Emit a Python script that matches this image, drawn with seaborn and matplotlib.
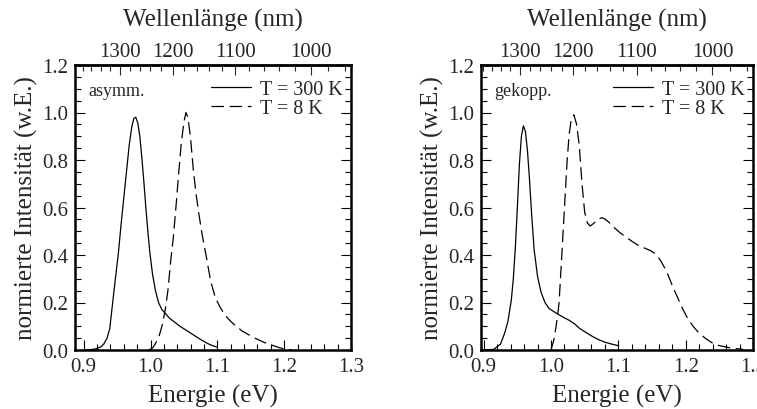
import numpy as np
import pandas as pd
import matplotlib
matplotlib.use("Agg")
import matplotlib.pyplot as plt
from matplotlib.ticker import MultipleLocator, FormatStrFormatter, FixedLocator
import seaborn as sns

sns.set_style("ticks")
plt.rcParams["font.family"] = ["Liberation Serif", "DejaVu Serif"]
plt.rcParams["mathtext.fontset"] = "stix"

# ---- photoluminescence spectra (energy in eV, normalised intensity) ----
asym_300K_E = [0.900, 0.912, 0.920, 0.926, 0.930, 0.935, 0.939, 0.943, 0.947, 0.952,
               0.956, 0.960, 0.964, 0.968, 0.972, 0.975, 0.978, 0.981, 0.984, 0.987,
               0.990, 0.993, 0.996, 0.999, 1.003, 1.007, 1.012, 1.017, 1.022, 1.028,
               1.034, 1.044, 1.054, 1.064, 1.074, 1.085, 1.093, 1.100]
asym_300K_I = [0.000, 0.002, 0.006, 0.014, 0.025, 0.050, 0.090, 0.190, 0.290, 0.410,
               0.530, 0.640, 0.750, 0.860, 0.940, 0.975, 0.980, 0.955, 0.900, 0.810,
               0.710, 0.600, 0.500, 0.410, 0.320, 0.255, 0.200, 0.170, 0.155, 0.135,
               0.122, 0.100, 0.082, 0.064, 0.046, 0.028, 0.018, 0.012]

asym_8K_E = [0.997, 1.003, 1.008, 1.013, 1.018, 1.022, 1.026, 1.030, 1.034, 1.038,
             1.042, 1.046, 1.050, 1.053, 1.056, 1.060, 1.064, 1.068, 1.072, 1.077,
             1.083, 1.090, 1.097, 1.105, 1.115, 1.124, 1.137, 1.154, 1.170, 1.184,
             1.195, 1.205, 1.212]
asym_8K_I = [0.000, 0.008, 0.030, 0.060, 0.110, 0.170, 0.250, 0.370, 0.470, 0.600,
             0.740, 0.870, 0.960, 1.000, 0.980, 0.890, 0.760, 0.660, 0.580, 0.490,
             0.400, 0.290, 0.220, 0.175, 0.135, 0.110, 0.080, 0.053, 0.032, 0.018,
             0.008, 0.002, 0.000]

coup_300K_E = [0.900, 0.915, 0.925, 0.931, 0.936, 0.941, 0.944, 0.947, 0.950, 0.953,
               0.956, 0.959, 0.962, 0.965, 0.968, 0.971, 0.975, 0.980, 0.985, 0.991,
               0.997, 1.005, 1.012, 1.020, 1.027, 1.035, 1.042, 1.050, 1.061, 1.071,
               1.081, 1.090, 1.100]
coup_300K_I = [0.000, 0.003, 0.025, 0.070, 0.120, 0.210, 0.300, 0.430, 0.600, 0.780,
               0.900, 0.944, 0.920, 0.840, 0.720, 0.580, 0.420, 0.310, 0.245, 0.200,
               0.175, 0.160, 0.148, 0.135, 0.125, 0.110, 0.092, 0.077, 0.058, 0.043,
               0.032, 0.025, 0.018]

coup_8K_E = [1.000, 1.004, 1.007, 1.010, 1.012, 1.014, 1.016, 1.018, 1.020, 1.022,
             1.024, 1.027, 1.030, 1.034, 1.038, 1.042, 1.046, 1.050, 1.054, 1.058,
             1.062, 1.066, 1.071, 1.076, 1.081, 1.087, 1.094, 1.102, 1.110, 1.120,
             1.130, 1.140, 1.148, 1.155, 1.162, 1.168, 1.174, 1.181, 1.189, 1.196,
             1.203, 1.211, 1.218, 1.228, 1.238, 1.248, 1.257, 1.270, 1.285]
coup_8K_I = [0.000, 0.040, 0.090, 0.150, 0.200, 0.300, 0.400, 0.500, 0.600, 0.700,
             0.800, 0.910, 0.970, 0.990, 0.950, 0.860, 0.700, 0.580, 0.535, 0.522,
             0.530, 0.540, 0.553, 0.557, 0.550, 0.535, 0.515, 0.495, 0.478, 0.458,
             0.440, 0.428, 0.418, 0.405, 0.380, 0.350, 0.315, 0.265, 0.215, 0.170,
             0.133, 0.100, 0.077, 0.052, 0.032, 0.020, 0.014, 0.007, 0.003]

panels = [
    dict(name="asymm.", xlim=(0.887, 1.30), rect=[75, 351, 276, 285],
         s300=(asym_300K_E, asym_300K_I), s8=(asym_8K_E, asym_8K_I)),
    dict(name="gekopp.", xlim=(0.896, 1.30), rect=[481, 351, 272, 285],
         s300=(coup_300K_E, coup_300K_I), s8=(coup_8K_E, coup_8K_I)),
]

x_ticks = [0.9, 1.0, 1.1, 1.2, 1.3]
y_ticks = [0.0, 0.2, 0.4, 0.6, 0.8, 1.0, 1.2]
wl_ticks = [1000, 1100, 1200, 1300]

HC = 1239.84  # eV nm


def e_to_wl(e):
    e = np.asarray(e, dtype=float)
    with np.errstate(divide="ignore"):
        return HC / e


def wl_to_e(w):
    w = np.asarray(w, dtype=float)
    with np.errstate(divide="ignore"):
        return HC / w


W, H = 757, 410
fig = plt.figure(figsize=(W / 100, H / 100), dpi=100)

TICK_FS = 15
LABEL_FS = 18

dash = (0, (10, 4.5))
for p in panels:
    x0, yb, w, h = p["rect"]
    ax = fig.add_axes([x0 / W, (H - yb) / H, w / W, h / H])

    d300 = pd.DataFrame({"E": p["s300"][0], "I": p["s300"][1]})
    d8 = pd.DataFrame({"E": p["s8"][0], "I": p["s8"][1]})
    sns.lineplot(data=d300, x="E", y="I", ax=ax, color="black", lw=0.9,
                 sort=False, estimator=None, label="T = 300 K")
    sns.lineplot(data=d8, x="E", y="I", ax=ax, color="black", lw=0.9,
                 sort=False, estimator=None, linestyle=dash, label="T = 8 K")

    ax.set_xlim(*p["xlim"])
    ax.set_ylim(0, 1.2)
    ax.set_xticks(x_ticks)
    ax.set_yticks(y_ticks)
    ax.xaxis.set_minor_locator(MultipleLocator(0.02))
    ax.yaxis.set_minor_locator(MultipleLocator(0.05))
    ax.xaxis.set_major_formatter(FormatStrFormatter("%.1f"))
    ax.yaxis.set_major_formatter(FormatStrFormatter("%.1f"))
    ax.tick_params(which="both", direction="in", right=True, top=False,
                   width=0.8, labelsize=TICK_FS, color="black")
    ax.tick_params(which="major", length=7)
    ax.tick_params(which="minor", length=4)
    ax.tick_params(axis="x", pad=5)
    ax.tick_params(axis="y", pad=5)
    for s in ax.spines.values():
        s.set_linewidth(1.8)
        s.set_color("black")
        s.set_visible(True)

    ax.set_xlabel("Energie (eV)", fontsize=LABEL_FS, labelpad=6)
    ax.set_ylabel("normierte Intensität (w.E.)", fontsize=LABEL_FS, labelpad=3)

    sec = ax.secondary_xaxis("top", functions=(e_to_wl, wl_to_e))
    sec.xaxis.set_major_locator(FixedLocator(wl_ticks))
    sec.xaxis.set_minor_locator(MultipleLocator(20))
    sec.xaxis.set_major_formatter(FormatStrFormatter("%d"))
    sec.tick_params(which="both", direction="in", width=0.8, labelsize=TICK_FS, pad=3)
    sec.tick_params(which="major", length=7)
    sec.tick_params(which="minor", length=4)
    sec.spines["top"].set_linewidth(1.8)
    sec.set_xlabel("Wellenlänge (nm)", fontsize=LABEL_FS, labelpad=12)

    ax.text(0.05, 0.909, p["name"], transform=ax.transAxes, fontsize=13,
            ha="left", va="center")

    ax.legend(loc="upper right", bbox_to_anchor=(1.0, 0.975), frameon=False,
              fontsize=14.5, handlelength=2.0, handletextpad=0.45,
              labelspacing=0.0, borderaxespad=0.2, borderpad=0.2)

fig.savefig("out.png", dpi=100)
